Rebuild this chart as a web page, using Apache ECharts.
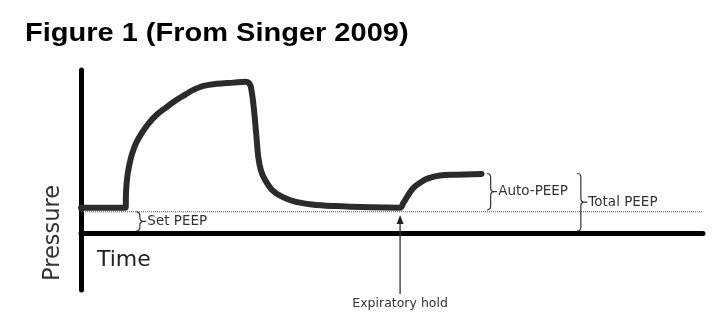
<!DOCTYPE html>
<html>
<head>
<meta charset="utf-8">
<script src="https://cdn.jsdelivr.net/npm/echarts@6/dist/echarts.min.js"></script>
<style>
html,body{margin:0;padding:0;background:#fff;}
#chart{width:716px;height:325px;}
</style>
</head>
<body>
<div id="chart"></div>
<script>
// ---- data ----
const titleText = 'Figure 1 (From Singer 2009)';
const xAxisTitle = 'Time';
const yAxisTitle = 'Pressure';

// pressure waveform (time units, pressure units)
const timePts = [
  0, 7.19, 7.23, 7.44, 7.77, 8.15, 8.84, 9.76, 10.82, 12.17, 13.5, 15.1, 16.7, 18.3, 19.7, 21.8, 24.5, 26.4,
  27.1, 27.4, 27.7, 27.97, 28.25, 28.5, 28.9, 29.6, 30.7, 32.3, 34.4, 37.1, 40.8, 46.5, 51.3,
  51.8, 52.6, 53.4, 54.5, 55.8, 57.7, 60.4, 64.4
];
const pressurePts = [
  6.2, 6.2, 9.74, 13.8, 16.7, 19.1, 22.0, 24.5, 26.8, 29.0, 30.6, 32.4, 33.9, 35.3, 36.1, 36.6, 36.9, 37.1,
  36.6, 35.1, 31.8, 27.7, 22.8, 18.7, 15.5, 13.0, 10.6, 8.9, 7.7, 7.0, 6.6, 6.3, 6.2,
  7.3, 9.3, 11.0, 12.3, 13.4, 14.1, 14.3, 14.5
];

const setPEEP = 5.2;          // dotted reference level
const autoPEEPLevel = 14.6;   // plateau during expiratory hold
const holdTime = 51.3;        // start of expiratory hold
const arrowTip = 4.4;
const arrowTail = -15;
const holdLabel = 'Expiratory hold';

const braceLabels = ['Set PEEP', 'Auto-PEEP', 'Total PEEP'];
const braceTime   = [8.9, 65.3, 79.8];
const braceLow    = [0, setPEEP, 0];
const braceHigh   = [setPEEP, autoPEEPLevel, autoPEEPLevel];

// ---- chart ----
const chart = echarts.init(document.getElementById('chart'), null, {renderer: 'canvas'});
const ink = '#2b2b2b';
const labelFont = '13.5px "DejaVu Sans", Verdana, sans-serif';

const waveData = timePts.map((t, i) => [t, pressurePts[i]]);
const braceData = braceLabels.map((l, i) => [braceTime[i], braceLow[i], braceHigh[i], i]);

const option = {
  animation: false,
  backgroundColor: '#fff',
  grid: {left: 81, right: 13, top: 70, bottom: 35, containLabel: false},
  xAxis: {
    type: 'value', min: 0, max: 100,
    axisLine: {show: true, onZero: true, lineStyle: {color: '#000', width: 5}},
    axisTick: {show: false}, axisLabel: {show: false}, splitLine: {show: false}
  },
  yAxis: {
    type: 'value', min: -14, max: 40,
    axisLine: {show: true, lineStyle: {color: '#000', width: 5}},
    axisTick: {show: false}, axisLabel: {show: false}, splitLine: {show: false}
  },
  graphic: [
    {type: 'text', x: 25, y: 34, scaleX: 1.16, style: {text: titleText, font: 'bold 25px "Liberation Sans", Arial, sans-serif', fill: '#000', verticalAlign: 'middle'}},
    {type: 'text', x: 97, y: 260, style: {text: xAxisTitle, font: '22px "DejaVu Sans", Verdana, sans-serif', fill: '#222', verticalAlign: 'middle'}},
    {type: 'text', x: 53, y: 233, rotation: Math.PI / 2, style: {text: yAxisTitle, font: '22.5px "DejaVu Sans", Verdana, sans-serif', fill: '#333', align: 'center', verticalAlign: 'middle'}}
  ],
  series: [
    {
      type: 'line', data: [[0, setPEEP], [100, setPEEP]], symbol: 'none', z: 1,
      lineStyle: {color: '#555', width: 1, type: [1, 1]}, silent: true
    },
    {
      type: 'line', data: waveData, symbol: 'none', smooth: 0.4, z: 3,
      lineStyle: {color: ink, width: 6, cap: 'round', join: 'round'}
    },
    {
      type: 'custom', data: braceData, z: 4, clip: false,
      renderItem: function (params, api) {
        const top = api.coord([api.value(0), api.value(2)]);
        const bot = api.coord([api.value(0), api.value(1)]);
        const x0 = top[0], y1 = top[1], y2 = bot[1] - 2;
        const ym = (y1 + y2) / 2, w = 7, h = w / 2;
        const r = Math.min(4, (y2 - y1) / 4);
        const d = 'M' + x0 + ' ' + y1 +
          ' Q' + (x0 + h) + ' ' + y1 + ' ' + (x0 + h) + ' ' + (y1 + r) +
          ' L' + (x0 + h) + ' ' + (ym - r) +
          ' Q' + (x0 + h) + ' ' + ym + ' ' + (x0 + w) + ' ' + ym +
          ' Q' + (x0 + h) + ' ' + ym + ' ' + (x0 + h) + ' ' + (ym + r) +
          ' L' + (x0 + h) + ' ' + (y2 - r) +
          ' Q' + (x0 + h) + ' ' + y2 + ' ' + x0 + ' ' + y2 +
          ' M' + (x0 + w) + ' ' + ym + ' L' + (x0 + w + 3) + ' ' + ym;
        return {
          type: 'group',
          children: [
            {type: 'path', shape: {pathData: d}, style: {stroke: '#333', fill: null, lineWidth: 1.2}},
            {type: 'text', x: x0 + w + 4, y: ym, style: {text: braceLabels[api.value(3)], font: labelFont, fill: '#333', align: 'left', verticalAlign: 'middle'}}
          ]
        };
      }
    },
    {
      type: 'custom', data: [[holdTime, arrowTip, arrowTail]], z: 4, clip: false,
      renderItem: function (params, api) {
        const tip = api.coord([api.value(0), api.value(1)]);
        const tail = api.coord([api.value(0), api.value(2)]);
        const x = tip[0];
        return {
          type: 'group',
          children: [
            {type: 'line', shape: {x1: x, y1: tip[1] + 6, x2: x, y2: tail[1]}, style: {stroke: '#333', lineWidth: 1.3}},
            {type: 'polygon', shape: {points: [[x, tip[1]], [x - 3.5, tip[1] + 9], [x + 3.5, tip[1] + 9]]}, style: {fill: '#222'}},
            {type: 'text', x: x, y: tail[1] + 10, style: {text: holdLabel, font: '12.5px "DejaVu Sans", Verdana, sans-serif', fill: '#333', align: 'center', verticalAlign: 'middle'}}
          ]
        };
      }
    }
  ]
};
chart.setOption(option);
</script>
</body>
</html>
